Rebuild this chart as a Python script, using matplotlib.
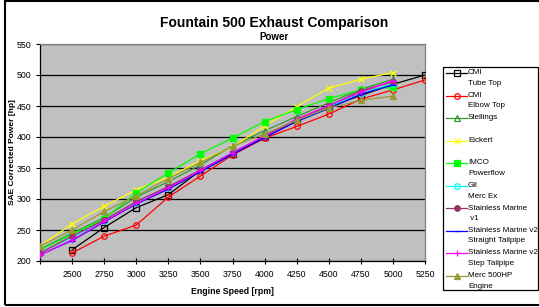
import matplotlib.pyplot as plt
import matplotlib.patches as mpatches
from matplotlib.lines import Line2D
import numpy as np

plt.rcParams['font.family'] = ['Liberation Sans', 'DejaVu Sans']

nan = np.nan
rpm = [2250, 2500, 2750, 3000, 3250, 3500, 3750, 4000, 4250, 4500, 4750, 5000, 5250]

cmi_tube = [nan, 218, 254, 286, 307, 346, 373, 400, 428, 449, 467, 485, 500]
cmi_elbow = [nan, 213, 240, 258, 303, 337, 371, 398, 417, 437, 461, 476, 492]
stellings = [219, 245, 270, 303, 328, 355, 386, 410, 433, 455, 477, 493, nan]
eickert = [224, 260, 288, 315, 335, 362, 384, 418, 449, 479, 493, 504, nan]
imco = [218, 243, 268, 310, 342, 373, 398, 425, 444, 462, 476, 480, nan]
gil = [214, 238, 265, 294, 318, 347, 375, 401, 428, 449, 470, 486, nan]
sm_v1 = [213, 240, 266, 296, 320, 347, 374, 400, 427, 450, 475, 489, nan]
sm_v2_straight = [210, 233, 263, 292, 316, 344, 372, 399, 425, 446, 469, 484, nan]
sm_v2_step = [210, 234, 264, 293, 318, 346, 375, 402, 429, 451, 472, 491, nan]
merc = [224, 250, 280, 305, 333, 359, 385, 405, 427, 447, 459, 466, nan]

xticks = [2250, 2500, 2750, 3000, 3250, 3500, 3750, 4000, 4250, 4500, 4750, 5000, 5250]
xticklabels = [''] + [str(v) for v in xticks[1:]]
yticks = [200, 250, 300, 350, 400, 450, 500, 550]

# label, values, colour, marker, marker face
series = [
    ('CMI\nTube Top', cmi_tube, 'black', 's', 'none'),
    ('CMI\nElbow Top', cmi_elbow, '#ff0000', 'o', 'none'),
    ('Stellings', stellings, '#339933', '^', 'none'),
    ('Eickert', eickert, '#ffff00', 'x', 'none'),
    ('IMCO\nPowerflow', imco, '#00ff00', 's', 'full'),
    ('Gil\nMerc Ex', gil, '#00ffff', 'o', 'none'),
    ('Stainless Marine\n v1', sm_v1, '#993366', 'o', 'full'),
    ('Stainless Marine v2\nStraight Tailpipe', sm_v2_straight, '#0000ff', '_', 'full'),
    ('Stainless Marine v2\nStep Tailpipe', sm_v2_step, '#ff00ff', '+', 'full'),
    ('Merc 500HP\nEngine', merc, '#999933', '^', 'full'),
]

W, H = 539, 307
fig = plt.figure(figsize=(W / 100, H / 100), dpi=100)
fig.patch.set_facecolor('white')

# outer chart border
fig.add_artist(mpatches.Rectangle((5 / W, 1 - 305 / H), 600 / W, 304 / H,
                                  transform=fig.transFigure, fill=False,
                                  edgecolor='black', linewidth=1.5))

ax = fig.add_axes([40 / W, 1 - 261 / H, 385 / W, 217 / H])
ax.set_facecolor('#c0c0c0')

for label, vals, col, mk, face in series:
    mfc = 'none' if face == 'none' else col
    ax.plot(rpm, vals, color=col, linewidth=0.9, marker=mk, markersize=4,
            markerfacecolor=mfc, markeredgecolor=col, markeredgewidth=0.9, zorder=3)

ax.set_xlim(2250, 5250)
ax.set_ylim(200, 550)
ax.set_xticks(xticks)
ax.set_xticklabels(xticklabels)
ax.set_yticks(yticks)
ax.tick_params(axis='x', direction='inout', length=5, width=0.8, labelsize=6.3, pad=4, colors='black')
ax.tick_params(axis='y', direction='out', length=3, width=0.8, labelsize=6.3, pad=3)
ax.grid(axis='y', color='black', linewidth=0.9)
ax.set_axisbelow(True)
ax.spines['left'].set_color('black')
ax.spines['bottom'].set_color('black')
ax.spines['top'].set_color('#808080')
ax.spines['right'].set_color('#808080')
for s in ax.spines.values():
    s.set_linewidth(0.9)

ax.set_xlabel('Engine Speed [rpm]', fontsize=6.3, fontweight='bold', labelpad=6)
fig.text(13 / W, 1 - 152 / H, 'SAE Corrected Power [hp]', rotation=90, ha='center', va='center',
         fontsize=6, fontweight='bold')

fig.text(274 / W, 1 - 23 / H, 'Fountain 500 Exhaust Comparison', ha='center', va='center',
         fontsize=10, fontweight='bold')
fig.text(274 / W, 1 - 37 / H, 'Power', ha='center', va='center', fontsize=7, fontweight='bold')

# legend drawn by hand so the marker sits on the first text line
fig.add_artist(mpatches.Rectangle((443 / W, 1 - 290 / H), 95 / W, 223 / H,
                                  transform=fig.transFigure, fill=False,
                                  edgecolor='black', linewidth=0.9))
y0 = 73
step = 22.5
for i, (label, vals, col, mk, face) in enumerate(series):
    y = y0 + i * step
    mfc = 'none' if face == 'none' else col
    fig.add_artist(Line2D([446 / W, 467 / W], [1 - y / H, 1 - y / H], transform=fig.transFigure,
                          color=col, linewidth=0.9))
    fig.add_artist(Line2D([456.5 / W], [1 - y / H], transform=fig.transFigure,
                          color=col, marker=mk, markersize=4, markerfacecolor=mfc,
                          markeredgecolor=col, markeredgewidth=0.9, linestyle='none'))
    for j, line in enumerate(label.split('\n')):
        fig.text(468 / W, 1 - (y + j * 10.5) / H, line, ha='left', va='center', fontsize=5.8)

plt.savefig('out.png', dpi=100)
